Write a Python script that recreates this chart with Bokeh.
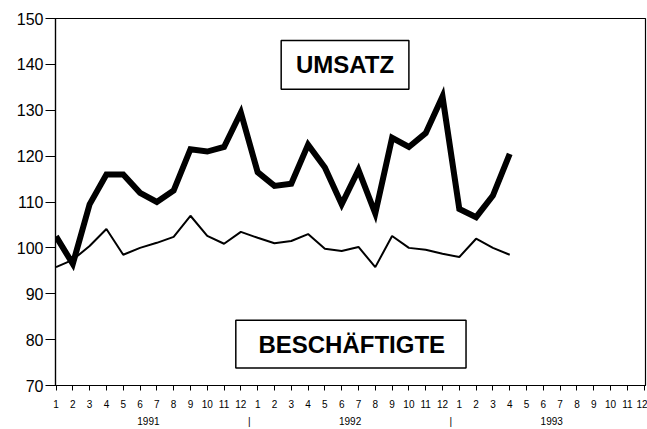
from bokeh.plotting import figure
from bokeh.models import Range1d, FixedTicker, LinearAxis, BoxAnnotation, Label
from bokeh.embed import file_html
from bokeh.resources import INLINE

month_labels = ["1", "2", "3", "4", "5", "6", "7", "8", "9", "10", "11", "12",
                "1", "2", "3", "4", "5", "6", "7", "8", "9", "10", "11", "12",
                "1", "2", "3", "4", "5", "6", "7", "8", "9", "10", "11", "12"]
year_labels = ["1991", "1992", "1993"]
y_ticks = [70, 80, 90, 100, 110, 120, 130, 140, 150]

umsatz = [102.5, 96.5, 109.5, 116.0, 116.0, 112.0, 110.0, 112.5, 121.5, 121.0, 122.0, 129.5,
          116.5, 113.5, 114.0, 122.5, 117.5, 109.5, 117.0, 107.5, 124.0, 122.0, 125.0, 133.0,
          108.5, 106.7, 111.4, 120.5]
beschaeftigte = [95.8, 97.4, 100.4, 104.1, 98.5, 100.0, 101.1, 102.4, 107.0, 102.6, 100.9, 103.5,
                 102.2, 101.0, 101.5, 103.0, 99.8, 99.3, 100.2, 95.8, 102.6, 100.0, 99.6, 98.7,
                 98.0, 102.0, 100.0, 98.5]

FONT = "Liberation Sans"

p = figure(width=647, height=429, output_backend="svg", toolbar_location=None,
           x_range=Range1d(-0.03, 35.08), y_range=Range1d(70, 150),
           min_border_left=55, min_border_right=2, min_border_top=18, min_border_bottom=0,
           background_fill_color="white", border_fill_color="white")
p.xgrid.visible = False
p.ygrid.visible = False
p.outline_line_color = "black"
p.outline_line_width = 1.2

# y axis
p.yaxis.ticker = FixedTicker(ticks=y_ticks)
p.yaxis.major_tick_out = 10
p.yaxis.major_tick_in = 0
p.yaxis.minor_tick_line_color = None
p.yaxis.major_label_text_font = FONT
p.yaxis.major_label_text_font_size = "16px"
p.yaxis.major_label_text_color = "black"
p.yaxis.major_label_standoff = 2
p.yaxis.axis_line_color = "black"
p.yaxis.axis_line_width = 1.2
p.yaxis.major_tick_line_width = 1.2

# month axis
xt = list(range(len(month_labels)))
p.xaxis.ticker = FixedTicker(ticks=xt)
p.xaxis.major_label_overrides = {i: lab for i, lab in zip(xt, month_labels)}
p.xaxis.major_tick_out = 5
p.xaxis.major_tick_in = 0
p.xaxis.minor_tick_line_color = None
p.xaxis.major_label_text_font = FONT
p.xaxis.major_label_text_font_size = "10px"
p.xaxis.major_label_text_color = "black"
p.xaxis.major_label_standoff = 9
p.xaxis.axis_line_color = "black"
p.xaxis.axis_line_width = 1.2

# year axis (labels and separators)
year_pos = [5.5, 17.5, 29.5]
sep_pos = [11.5, 23.5]
overrides = {pos: lab for pos, lab in zip(year_pos, year_labels)}
for s in sep_pos:
    overrides[s] = "|"
yax = LinearAxis(ticker=FixedTicker(ticks=sorted(year_pos + sep_pos)),
                 major_label_overrides=overrides,
                 axis_line_color=None, major_tick_line_color=None, minor_tick_line_color=None,
                 major_tick_out=0, major_tick_in=0, minor_tick_out=0, minor_tick_in=0,
                 major_label_text_font=FONT, major_label_text_font_size="10px",
                 major_label_text_color="black", major_label_standoff=5)
p.add_layout(yax, "below")

# lines
x = list(range(len(umsatz)))
p.line(x, umsatz, line_color="black", line_width=6, line_join="miter")
p.line(x, beschaeftigte, line_color="black", line_width=2)

# label boxes
p.add_layout(BoxAnnotation(left=13.4, right=21.0, bottom=134.6, top=145.2,
                           fill_color="white", fill_alpha=1, line_color="black",
                           line_alpha=1, line_width=1.5))
p.add_layout(Label(x=17.2, y=139.9, text="UMSATZ", text_align="center", text_baseline="middle",
                   text_font=FONT, text_font_style="bold", text_font_size="24px", text_color="black"))
p.add_layout(BoxAnnotation(left=10.7, right=24.4, bottom=73.8, top=84.2,
                           fill_color="white", fill_alpha=1, line_color="black",
                           line_alpha=1, line_width=1.5))
p.add_layout(Label(x=17.6, y=79.0, text="BESCHÄFTIGTE", text_align="center", text_baseline="middle",
                   text_font=FONT, text_font_style="bold", text_font_size="24px", text_color="black"))

open("out.html", "w").write(file_html(p, INLINE))
